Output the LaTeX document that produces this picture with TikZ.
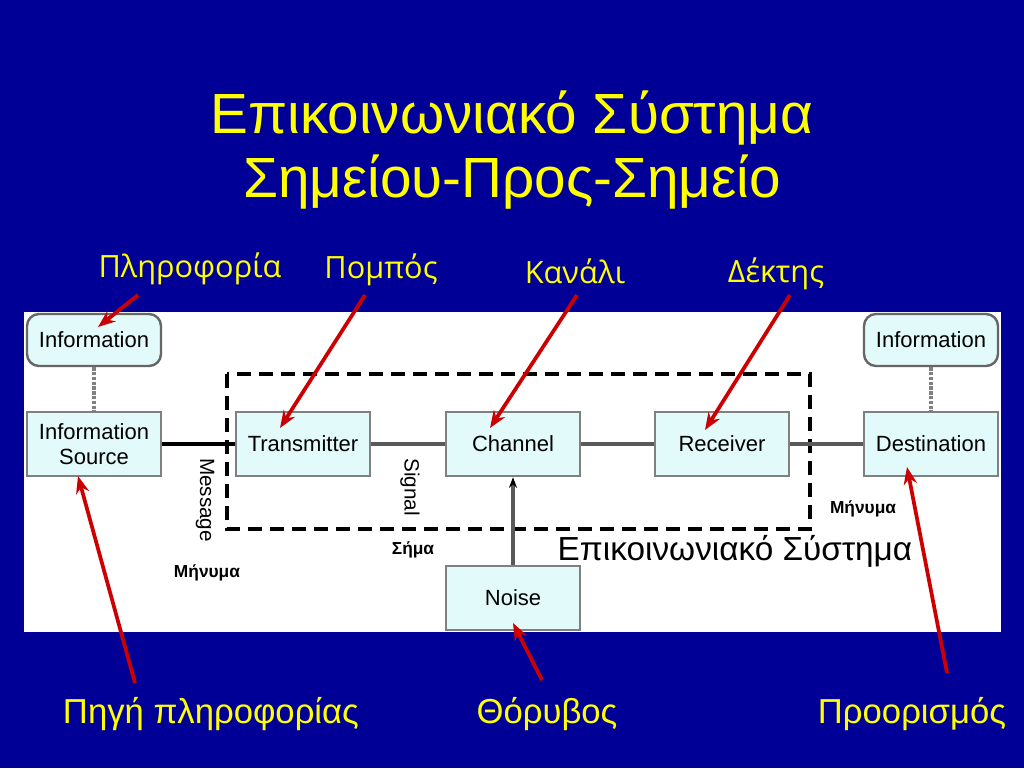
\documentclass[tikz,border=0pt]{standalone}
\usepackage{fontspec}
\setmainfont{Liberation Sans}
\newfontfamily\labelfont{Open Sans}
\usetikzlibrary{arrows.meta}
\definecolor{slide}{RGB}{0,0,150}
\definecolor{boxfill}{RGB}{226,250,250}
\definecolor{boxline}{RGB}{128,128,128}
\definecolor{pointer}{RGB}{204,0,0}
\definecolor{caption}{RGB}{255,255,0}

\begin{document}
\begin{tikzpicture}[x=0.75pt,y=-0.75pt,
  block/.style={draw=boxline, line width=1.8pt, fill=boxfill, minimum width=100.5pt, minimum height=48pt, inner sep=0pt, align=center, font=\fontsize{16.5}{19}\selectfont},
  infobox/.style={block, draw=black!60, rounded corners=9pt, minimum height=39pt},
  toplabel/.style={anchor=base, text=caption, font=\labelfont\fontsize{23}{26}\selectfont},
  botlabel/.style={anchor=base, text=caption, font=\fontsize{26}{30}\selectfont},
  smalllabel/.style={anchor=base, font=\bfseries\fontsize{13}{15}\selectfont},
  sidelabel/.style={rotate=-90, font=\fontsize{15.5}{18}\selectfont},
  link/.style={line width=2.6pt, draw=black!65},
  pointer/.style={draw=pointer, line width=2.8pt, -{Stealth[length=13pt,width=10pt]}},
  ]

% background
\useasboundingbox (0,0) rectangle (1024,768);
\fill[slide] (0,0) rectangle (1024,768);
\fill[white] (24,312) rectangle (1001,632);

% title
\node[anchor=base, text=caption, font=\fontsize{42.5}{48}\selectfont] (titleA) at (512,133) {Επικοινωνιακό Σύστημα};
\node[anchor=base, text=caption, font=\fontsize{42.5}{48}\selectfont] (titleB) at (512,197) {Σημείου-Προς-Σημείο};

% system border
\draw[line width=2.4pt, dash pattern=on 10.5pt off 6pt] (227,374) rectangle (810,529);

% blocks
\node[infobox] (infoL) at (94,340) {Information};
\node[infobox] (infoR) at (931,340) {Information};
\node[block] (source) at (94,444) {Information\\Source};
\node[block] (transmitter) at (303,444) {Transmitter};
\node[block] (channel) at (513,444) {Channel};
\node[block] (receiver) at (722,444) {Receiver};
\node[block] (destination) at (931,444) {Destination};
\node[block] (noise) at (513,598) {Noise};

% links
\draw[line width=2.6pt, draw=black!50, densely dotted] (infoL) -- (source);
\draw[line width=2.6pt, draw=black!50, densely dotted] (infoR) -- (destination);
\draw[link, draw=black] (source) -- (transmitter);
\draw[link] (transmitter) -- (channel);
\draw[link] (channel) -- (receiver);
\draw[link] (receiver) -- (destination);
\draw[link, -{Stealth[length=8pt,width=6pt,black]}] (noise) -- (channel);

% texts on the links
\node[sidelabel] (message) at (205,500) {Message};
\node[sidelabel] (signal) at (410,487) {Signal};
\node[smalllabel] (msgL) at (207,577) {Μήνυμα};
\node[smalllabel] (sig) at (413,554) {Σήμα};
\node[smalllabel] (msgR) at (863,513) {Μήνυμα};
\node[anchor=base, font=\fontsize{25}{28}\selectfont] (system) at (735,560) {Επικοινωνιακό Σύστημα};

% captions
\node[toplabel] (capInfo) at (190,277) {Πληροφορία};
\node[toplabel] (capTx) at (381,278) {Πομπός};
\node[toplabel] (capCh) at (575,283) {Κανάλι};
\node[toplabel] (capRx) at (776,282) {Δέκτης};
\node[botlabel] (capSrc) at (211,723) {Πηγή πληροφορίας};
\node[botlabel] (capNoise) at (547,723) {Θόρυβος};
\node[botlabel] (capDest) at (912,723) {Προορισμός};

% pointer ends
\coordinate (fromInfo) at (138,295);
\coordinate (toInfo) at (98,327);
\coordinate (fromTx) at (365,295);
\coordinate (toTx) at (280,428);
\coordinate (fromCh) at (577,295);
\coordinate (toCh) at (490,428);
\coordinate (fromRx) at (790,295);
\coordinate (toRx) at (705,430);
\coordinate (fromSrc) at (135,683);
\coordinate (toSrc) at (78,476);
\coordinate (fromNoise) at (542,680);
\coordinate (toNoise) at (513,623);
\coordinate (fromDest) at (947,673);
\coordinate (toDest) at (907,467);

% pointers
\draw[pointer] (fromInfo) -- (toInfo);
\draw[pointer] (fromTx) -- (toTx);
\draw[pointer] (fromCh) -- (toCh);
\draw[pointer] (fromRx) -- (toRx);
\draw[pointer] (fromSrc) -- (toSrc);
\draw[pointer] (fromNoise) -- (toNoise);
\draw[pointer] (fromDest) -- (toDest);

\end{tikzpicture}
\end{document}
